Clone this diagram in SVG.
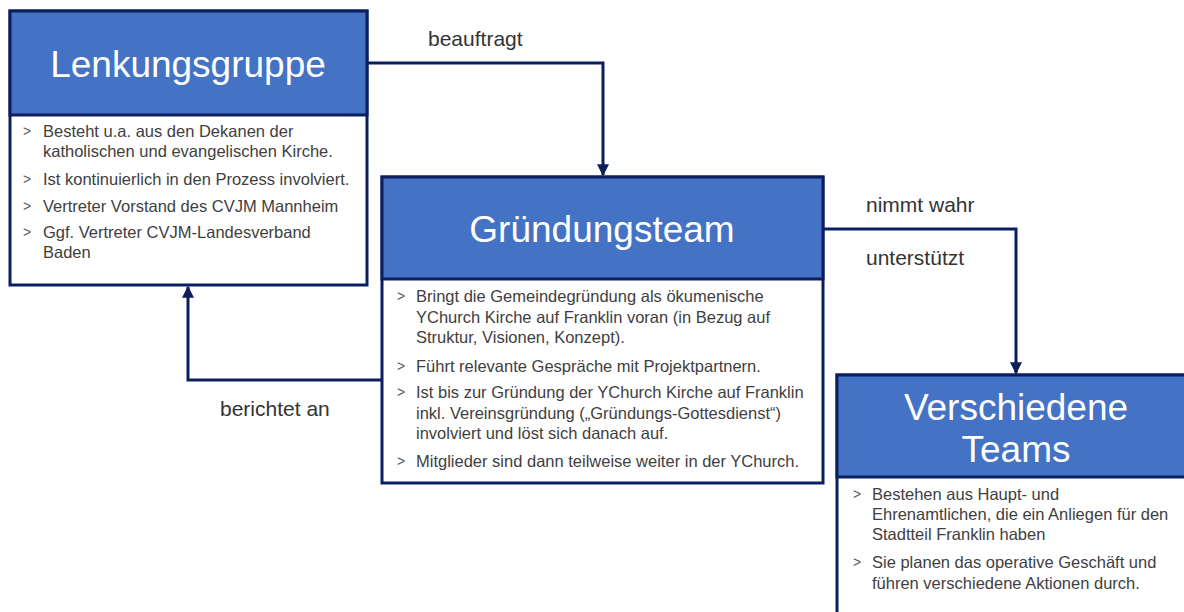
<svg xmlns="http://www.w3.org/2000/svg" width="1184" height="612" viewBox="0 0 1184 612">
<style>
.box{fill:#ffffff;stroke:#0B1F5E;stroke-width:3}
.hdr{fill:#4472C4;stroke:#0B1F5E;stroke-width:3}
.title{font-family:"Liberation Sans",Arial,sans-serif;font-size:37px;fill:#ffffff;text-anchor:middle}
.body{font-family:"Liberation Sans",Arial,sans-serif;font-size:16.5px;fill:#404040}
.bul{font-family:"Liberation Sans",Arial,sans-serif;font-size:14px;fill:#595959}
.lbl{font-family:"Liberation Sans",Arial,sans-serif;font-size:21px;fill:#333333}
.con{fill:none;stroke:#0B1F5E;stroke-width:3}
</style>
<defs>
<marker id="arr" viewBox="0 0 10 10" refX="9" refY="5" markerWidth="4" markerHeight="4" orient="auto" markerUnits="strokeWidth">
<path d="M0,0 L10,5 L0,10 z" fill="#0B1F5E"/>
</marker>
</defs>
<rect width="1184" height="612" fill="#ffffff"/>
<g id="connectors">
<path class="con" d="M367,63 H603 V175" marker-end="url(#arr)"/>
<path class="con" d="M823,229 H1016 V373" marker-end="url(#arr)"/>
<path class="con" d="M382,380 H188 V287" marker-end="url(#arr)"/>
<text class="lbl" x="428" y="46">beauftragt</text>
<text class="lbl" x="866" y="212">nimmt wahr</text>
<text class="lbl" x="866" y="265">unterstützt</text>
<text class="lbl" x="220" y="416">berichtet an</text>
</g>
<g id="lenkungsgruppe">
<rect class="box" x="10" y="11" width="357" height="274"/>
<rect class="hdr" x="10" y="11" width="357" height="104"/>
<text class="title" x="188" y="77">Lenkungsgruppe</text>
<text class="bul" x="23" y="136">&gt;</text>
<text class="body" x="43" y="137">Besteht u.a. aus den Dekanen der</text>
<text class="body" x="43" y="157">katholischen und evangelischen Kirche.</text>
<text class="bul" x="23" y="184">&gt;</text>
<text class="body" x="43" y="185">Ist kontinuierlich in den Prozess involviert.</text>
<text class="bul" x="23" y="211">&gt;</text>
<text class="body" x="43" y="212">Vertreter Vorstand des CVJM Mannheim</text>
<text class="bul" x="23" y="237">&gt;</text>
<text class="body" x="43" y="238">Ggf. Vertreter CVJM-Landesverband</text>
<text class="body" x="43" y="258">Baden</text>
</g>
<g id="gruendungsteam">
<rect class="box" x="382" y="177" width="441" height="306"/>
<rect class="hdr" x="382" y="177" width="441" height="102"/>
<text class="title" x="602" y="242">Gründungsteam</text>
<text class="bul" x="397" y="301">&gt;</text>
<text class="body" x="416" y="302">Bringt die Gemeindegründung als ökumenische</text>
<text class="body" x="416" y="323">YChurch Kirche auf Franklin voran (in Bezug auf</text>
<text class="body" x="416" y="343">Struktur, Visionen, Konzept).</text>
<text class="bul" x="397" y="371">&gt;</text>
<text class="body" x="416" y="372">Führt relevante Gespräche mit Projektpartnern.</text>
<text class="bul" x="397" y="397">&gt;</text>
<text class="body" x="416" y="398">Ist bis zur Gründung der YChurch Kirche auf Franklin</text>
<text class="body" x="416" y="419">inkl. Vereinsgründung („Gründungs-Gottesdienst“)</text>
<text class="body" x="416" y="439">involviert und löst sich danach auf.</text>
<text class="bul" x="397" y="466">&gt;</text>
<text class="body" x="416" y="467">Mitglieder sind dann teilweise weiter in der YChurch.</text>
</g>
<g id="verschiedene-teams">
<rect class="box" x="837" y="375" width="370" height="260"/>
<rect class="hdr" x="837" y="375" width="370" height="102"/>
<text class="title" x="1016" y="420">Verschiedene</text>
<text class="title" x="1016" y="462">Teams</text>
<text class="bul" x="853" y="499">&gt;</text>
<text class="body" x="872" y="500">Bestehen aus Haupt- und</text>
<text class="body" x="872" y="520">Ehrenamtlichen, die ein Anliegen für den</text>
<text class="body" x="872" y="540">Stadtteil Franklin haben</text>
<text class="bul" x="853" y="567">&gt;</text>
<text class="body" x="872" y="568">Sie planen das operative Geschäft und</text>
<text class="body" x="872" y="589">führen verschiedene Aktionen durch.</text>
</g>
</svg>
